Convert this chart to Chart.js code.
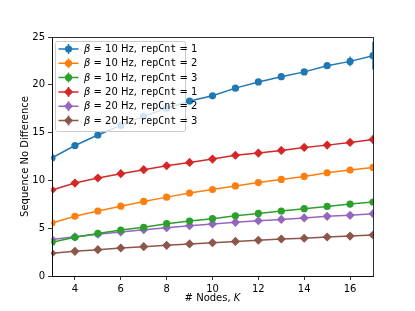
<!DOCTYPE html>
<html><head><meta charset="utf-8">
<script src="https://cdn.jsdelivr.net/npm/chart.js@4/dist/chart.umd.min.js"></script>
<style>html,body{margin:0;padding:0;background:#fff}#wrap{width:415px;height:311px}</style>
</head><body><div id="wrap"><canvas id="c" width="415" height="311"></canvas></div>
<script>
const nodes = [3,4,5,6,7,8,9,10,11,12,13,14,15,16,17];
const b10r1 = [12.35,13.65,14.75,15.75,16.7,17.55,18.3,18.85,19.65,20.3,20.85,21.35,22.0,22.45,23.05];
const b10r2 = [5.55,6.25,6.8,7.3,7.8,8.25,8.68,9.05,9.42,9.77,10.1,10.42,10.8,11.08,11.36];
const b10r3 = [3.52,4.05,4.45,4.8,5.1,5.47,5.75,6.0,6.3,6.55,6.8,7.04,7.28,7.52,7.74];
const b20r1 = [9.0,9.72,10.25,10.7,11.12,11.53,11.88,12.23,12.63,12.86,13.14,13.45,13.69,13.97,14.28];
const b20r2 = [3.83,4.1,4.37,4.6,4.84,5.05,5.26,5.44,5.61,5.78,5.92,6.07,6.24,6.35,6.52];
const b20r3 = [2.38,2.58,2.75,2.93,3.07,3.21,3.35,3.48,3.62,3.74,3.87,3.95,4.08,4.18,4.29];
const err10r1 = [0.2,0.2,0.2,0.2,0.2,0.2,0.2,0.2,0.25,0.25,0.3,0.3,0.35,0.5,1.45];
const err10r2 = [0.15,0.15,0.15,0.15,0.15,0.15,0.15,0.15,0.15,0.15,0.15,0.2,0.2,0.2,0.25];
const err10r3 = [0.15,0.15,0.15,0.15,0.15,0.15,0.15,0.15,0.15,0.15,0.15,0.15,0.15,0.2,0.2];
const err20r1 = [0.2,0.2,0.2,0.2,0.2,0.2,0.2,0.2,0.2,0.2,0.2,0.25,0.25,0.3,0.45];
const err20r2 = [0.15,0.15,0.15,0.15,0.15,0.15,0.15,0.15,0.15,0.15,0.15,0.15,0.15,0.15,0.2];
const err20r3 = [0.15,0.15,0.15,0.15,0.15,0.15,0.15,0.15,0.15,0.15,0.15,0.15,0.15,0.15,0.15];
const freqs = ['10','10','10','20','20','20'];
const reps = ['1','2','3','1','2','3'];
const colors = ['#1f77b4','#ff7f0e','#2ca02c','#d62728','#9467bd','#8c564b'];
const markers = ['circle','circle','circle','rectRot','rectRot','rectRot'];
const series = [b10r1,b10r2,b10r3,b20r1,b20r2,b20r3];
const errs = [err10r1,err10r2,err10r3,err20r1,err20r2,err20r3];
const xTicks = [4,6,8,10,12,14,16];
const yTicks = [0,5,10,15,20,25];

const FONT = '"DejaVu Sans", sans-serif';

const datasets = series.map((s,i)=>({
  label: 'β = '+freqs[i]+' Hz, repCnt = '+reps[i],
  data: nodes.map((x,j)=>({x:x,y:s[j]})),
  err: errs[i],
  borderColor: colors[i], backgroundColor: colors[i],
  borderWidth: 1.5,
  pointStyle: markers[i],
  pointRadius: markers[i]==='circle'?3.6:4.6,
  pointBorderWidth: 0,
  pointBackgroundColor: colors[i],
  tension: 0
}));

const errPlugin = {
  id:'errbars',
  beforeDatasetDraw(chart, args){
    const ds = chart.data.datasets[args.index];
    const xs = chart.scales.x, ys = chart.scales.y, ctx = chart.ctx;
    ctx.save();
    ctx.strokeStyle = ds.borderColor; ctx.lineWidth = 1.5;
    ctx.beginPath();
    ds.data.forEach((p,j)=>{
      const px = xs.getPixelForValue(p.x);
      ctx.moveTo(px, ys.getPixelForValue(p.y - ds.err[j]));
      ctx.lineTo(px, ys.getPixelForValue(p.y + ds.err[j]));
    });
    ctx.stroke();
    ctx.restore();
  }
};

const framePlugin = {
  id:'frame',
  afterDraw(chart){
    const ctx = chart.ctx, a = chart.chartArea;
    ctx.save();
    ctx.strokeStyle = '#000'; ctx.lineWidth = 0.8;
    ctx.strokeRect(Math.round(a.left)+0.5, Math.round(a.top)+0.5, Math.round(a.right-a.left), Math.round(a.bottom-a.top));
    // axis titles
    ctx.fillStyle = '#000';
    ctx.textAlign = 'center'; ctx.textBaseline = 'middle';
    ctx.font = '10px '+FONT;
    const xt1 = '# Nodes, ', xt2 = 'K';
    const w1 = ctx.measureText(xt1).width;
    ctx.font = 'italic 10px '+FONT;
    const w2 = ctx.measureText(xt2).width;
    const cx = (a.left+a.right)/2, start = cx - (w1+w2)/2;
    ctx.textAlign = 'left';
    ctx.font = '10px '+FONT; ctx.fillText(xt1, start, 298);
    ctx.font = 'italic 10px '+FONT; ctx.fillText(xt2, start+w1, 298);
    ctx.save();
    ctx.translate(25, (a.top+a.bottom)/2); ctx.rotate(-Math.PI/2);
    ctx.textAlign='center'; ctx.font = '10px '+FONT;
    ctx.fillText('Sequence No Difference', 0, 0);
    ctx.restore();
    // legend
    const bx=55.5, by=41.5, bw=130, bh=90;
    ctx.fillStyle='rgba(255,255,255,0.8)';
    ctx.strokeStyle='#cccccc'; ctx.lineWidth=1;
    ctx.beginPath();
    if (ctx.roundRect) ctx.roundRect(bx,by,bw,bh,2); else ctx.rect(bx,by,bw,bh);
    ctx.fill(); ctx.stroke();
    chart.data.datasets.forEach((ds,i)=>{
      const y = 49 + i*14.3;
      ctx.strokeStyle = ds.borderColor; ctx.lineWidth=1.5;
      ctx.beginPath(); ctx.moveTo(58.5,y); ctx.lineTo(78.5,y);
      ctx.moveTo(68.5,y-5); ctx.lineTo(68.5,y+5); ctx.stroke();
      ctx.fillStyle = ds.borderColor;
      ctx.beginPath();
      if (markers[i]==='circle'){ ctx.arc(68.5,y,3.6,0,Math.PI*2); }
      else { const r=4.6; ctx.moveTo(68.5,y-r); ctx.lineTo(68.5+r,y); ctx.lineTo(68.5,y+r); ctx.lineTo(68.5-r,y); ctx.closePath(); }
      ctx.fill();
      // text pieces
      ctx.fillStyle='#000'; ctx.textAlign='left'; ctx.textBaseline='middle';
      let tx = 84;
      const parts = [
        ['italic 10px "DejaVu Sans", sans-serif','β'],
        ['10px "DejaVu Sans", sans-serif',' = '+freqs[i]+' Hz, '],
        ['10px "DejaVu Sans Mono", monospace','repCnt'],
        ['10px "DejaVu Sans", sans-serif',' = '+reps[i]]
      ];
      parts.forEach(([f,t])=>{ ctx.font=f; ctx.fillText(t,tx,y+0.5); tx += ctx.measureText(t).width; });
    });
    ctx.restore();
  }
};

new Chart(document.getElementById('c'), {
  type:'line',
  data:{datasets},
  plugins:[errPlugin, framePlugin],
  options:{
    responsive:false, animation:false, devicePixelRatio:1,
    layout:{padding:{left:0,right:42,top:37,bottom:0}},
    plugins:{legend:{display:false}, tooltip:{enabled:false}},
    scales:{
      x:{type:'linear', min:3, max:17,
        afterFit(s){ s.height = 35; },
        afterBuildTicks(s){ s.ticks = xTicks.map(v=>({value:v})); },
        grid:{display:true, drawOnChartArea:false, drawTicks:true, tickLength:4, color:'#000', lineWidth:0.8},
        border:{display:true,color:'#000',width:0.8},
        ticks:{color:'#000', font:{family:FONT,size:10}, padding:3, maxRotation:0}
      },
      y:{type:'linear', min:0, max:25,
        afterFit(s){ s.width = 52; },
        afterBuildTicks(s){ s.ticks = yTicks.map(v=>({value:v})); },
        grid:{display:true, drawOnChartArea:false, drawTicks:true, tickLength:4, color:'#000', lineWidth:0.8},
        border:{display:true,color:'#000',width:0.8},
        ticks:{color:'#000', font:{family:FONT,size:10}, padding:3}
      }
    }
  }
});
</script></body></html>
